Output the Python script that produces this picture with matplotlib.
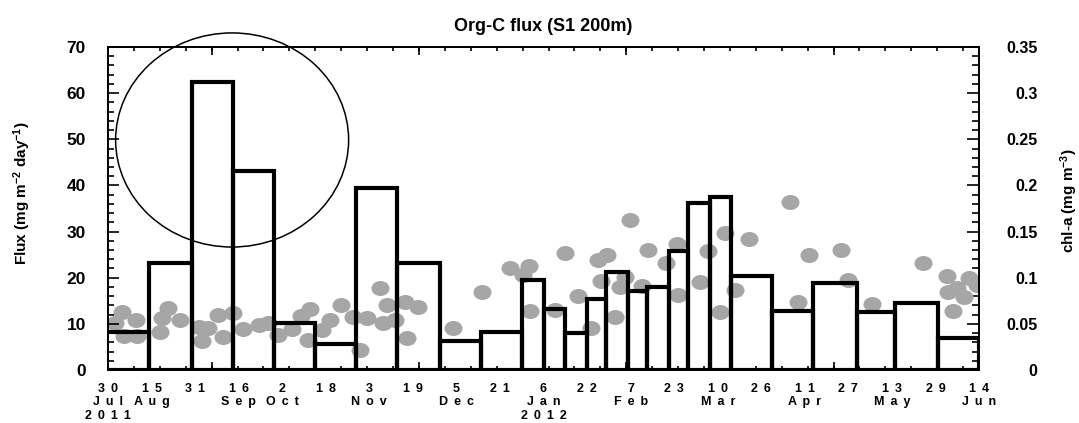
import numpy as np
import matplotlib.pyplot as plt
from matplotlib.patches import Ellipse
from matplotlib.path import Path

plt.rcParams['font.family'] = ['Liberation Sans', 'DejaVu Sans']
plt.rcParams['font.weight'] = 'bold'
plt.rcParams['mathtext.fontset'] = 'custom'
plt.rcParams['mathtext.rm'] = 'Liberation Sans:bold'
plt.rcParams['mathtext.default'] = 'rm'

start = np.datetime64('2011-07-30')

# sediment trap cup open/close dates and org-C flux (mg m-2 day-1)
cup_edges = ['2011-07-15', '2011-08-14', '2011-08-30', '2011-09-14', '2011-09-29',
             '2011-10-14', '2011-10-29', '2011-11-13', '2011-11-29', '2011-12-14',
             '2011-12-29', '2012-01-06', '2012-01-14', '2012-01-22', '2012-01-29',
             '2012-02-06', '2012-02-13', '2012-02-21', '2012-02-28', '2012-03-07',
             '2012-03-15', '2012-03-30', '2012-04-14', '2012-04-30', '2012-05-14',
             '2012-05-30', '2012-06-14']
flux = [8.3, 23.2, 62.4, 43.1, 10.2, 5.6, 39.4, 23.2, 6.3, 8.2, 19.5, 13.2, 8.0,
        15.4, 21.3, 17.1, 18.0, 25.8, 36.2, 37.5, 20.4, 12.8, 18.9, 12.6, 14.6, 7.0]

# chl-a samples: days after 30 Jul 2011, value (mg m-3)
chl_day = [2.6, 5.1, 5.9, 10.3, 10.7, 19.1, 19.8, 22.0, 26.5, 33.4,
           34.5, 36.7, 40.4, 42.3, 45.9, 49.6, 55.5, 58.8, 62.5, 67.6,
           70.9, 74.2, 73.5, 78.6, 81.6, 85.6, 90.0, 92.6, 95.2, 99.9,
           101.0, 102.5, 105.4, 109.1, 109.8, 113.9, 126.7, 137.4, 147.7, 152.5,
           154.7, 155.0, 164.2, 167.9, 172.7, 177.4, 180.0, 183.3, 181.1, 186.3,
           188.1, 189.9, 191.8, 196.2, 198.4, 205.0, 209.0, 209.4, 217.5, 220.4,
           224.8, 226.7, 230.4, 235.5, 250.6, 253.5, 257.5, 269.3, 271.9, 280.7,
           299.4, 308.2, 316.3, 319.3, 308.6, 311.9, 314.5, 310.4]
chl = [0.051, 0.063, 0.037, 0.054, 0.037, 0.041, 0.056, 0.067, 0.054, 0.047,
       0.031, 0.046, 0.060, 0.036, 0.062, 0.044, 0.049, 0.051, 0.038, 0.044,
       0.059, 0.066, 0.033, 0.043, 0.054, 0.070, 0.057, 0.022, 0.056, 0.089,
       0.051, 0.070, 0.054, 0.074, 0.035, 0.068, 0.046, 0.085, 0.111, 0.103,
       0.113, 0.064, 0.065, 0.127, 0.080, 0.046, 0.119, 0.125, 0.096, 0.057,
       0.090, 0.101, 0.163, 0.091, 0.130, 0.116, 0.137, 0.081, 0.095, 0.129,
       0.063, 0.148, 0.087, 0.142, 0.182, 0.074, 0.125, 0.130, 0.098, 0.072,
       0.116, 0.102, 0.100, 0.092, 0.085, 0.089, 0.079, 0.064]

tick_dates = ['2011-07-30', '2011-08-15', '2011-08-31', '2011-09-16', '2011-10-02',
              '2011-10-18', '2011-11-03', '2011-11-19', '2011-12-05', '2011-12-21',
              '2012-01-06', '2012-01-22', '2012-02-07', '2012-02-23', '2012-03-10',
              '2012-03-26', '2012-04-11', '2012-04-27', '2012-05-13', '2012-05-29',
              '2012-06-14']
tick_days = ['30', '15', '31', '16', '2', '18', '3', '19', '5', '21', '6', '22', '7',
             '23', '10', '26', '11', '27', '13', '29', '14']
tick_months = ['Jul', 'Aug', '', 'Sep', 'Oct', '', 'Nov', '', 'Dec', '', 'Jan', '',
               'Feb', '', 'Mar', '', 'Apr', '', 'May', '', 'Jun']
tick_years = ['2011', '', '', '', '', '', '', '', '', '', '2012', '', '', '', '', '',
              '', '', '', '', '']


def spaced(s):
    # wide letter spacing like the original plot
    return ' \u2009'.join(s)


def days_since_start(dates):
    return (np.array(dates, dtype='datetime64[D]') - start).astype(float)


edges = days_since_start(cup_edges)
tick_x = days_since_start(tick_dates)
xlabels = []
for d, m, y in zip(tick_days, tick_months, tick_years):
    rows = [spaced(d)] + [spaced(r) for r in (m, y) if r]
    xlabels.append('\n'.join(rows))

fig = plt.figure(figsize=(10.79, 4.23), dpi=100)
ax = fig.add_axes([108 / 1079, 1 - 370 / 423, 871 / 1079, 323 / 423])
ax2 = ax.twinx()
ax.set_zorder(ax2.get_zorder() + 1)
ax.patch.set_visible(False)

circ = Path.unit_circle()
oval = Path(circ.vertices * [1.2, 1.0], circ.codes)
ax2.plot(chl_day, chl, ls='none', marker=oval, ms=13, mfc='#a6a6a6', mec='none')

ax.bar(edges[:-1], flux, width=np.diff(edges), align='edge', fill=False,
       edgecolor='black', linewidth=3)

ax.add_patch(Ellipse((45.6, 49.85), 85.6, 46.4, fill=False, lw=1.1,
                     edgecolor='black', clip_on=False))

ax.set_xlim(0, 320)
ax.set_ylim(0, 70)
ax2.set_ylim(0, 0.35)

for a in (ax, ax2):
    for s in a.spines.values():
        s.set_linewidth(1.3)

ax.set_yticks(np.arange(0, 71, 10))
ax.set_yticks(np.arange(0, 71, 2), minor=True)
ax.tick_params(axis='y', which='major', direction='in', length=8, width=1.2,
               labelsize=12.5, pad=16)
ax.tick_params(axis='y', which='minor', direction='in', length=4.5, width=1.2)

ax.set_xticks(tick_x, labels=xlabels)
ax.set_xticks(np.arange(9.52, 320, 9.52), minor=True)
ax.tick_params(axis='x', which='major', length=0, labelsize=9, pad=9)
ax.tick_params(axis='x', which='minor', direction='in', length=3, width=1.2,
               top=True)
for t in ax.get_xticklabels():
    t.set_linespacing(1.22)

long_ticks = [38.1, 114.2, 190.4, 266.6]
for loc in ('bottom', 'top'):
    sec = ax.secondary_xaxis(loc)
    sec.set_xticks(long_ticks)
    sec.tick_params(direction='in', length=6, width=1.2, labelbottom=False,
                    labeltop=False)
    sec.spines[loc].set_visible(False)

chl_ticks = np.arange(0, 0.351, 0.05)
ax2.set_yticks(chl_ticks, labels=['0', '0.05', '0.1', '0.15', '0.2', '0.25', '0.3', '0.35'])
ax2.set_yticks(np.arange(0, 0.351, 0.01), minor=True)
ax2.tick_params(axis='y', which='major', direction='in', length=9, width=1.2,
                labelsize=11.5, pad=42)
ax2.tick_params(axis='y', which='minor', direction='in', length=5, width=1.2)
for t in ax2.get_yticklabels():
    t.set_horizontalalignment('right')

ax.set_title('Org-C flux (S1 200m)', fontsize=13, fontweight='bold', pad=11.5)
ax.set_ylabel(r'Flux (mg m$^{-2}$ day$^{-1}$)', fontsize=11, fontweight='bold')
ax.yaxis.set_label_coords(-0.086, 0.548)
ax2.set_ylabel(r'chl-a (mg m$^{-3}$)', fontsize=11, fontweight='bold')
ax2.yaxis.set_label_coords(1.091, 0.523)

fig.savefig('out.png', dpi=100)
